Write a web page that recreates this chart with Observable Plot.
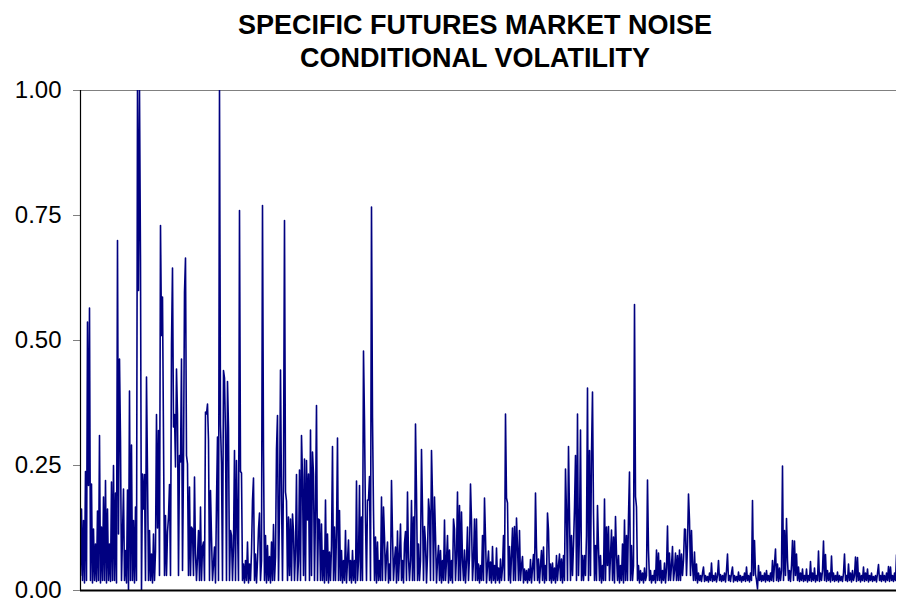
<!DOCTYPE html>
<html>
<head>
<meta charset="utf-8">
<script src="https://cdn.jsdelivr.net/npm/d3@7"></script>
<script src="https://cdn.jsdelivr.net/npm/@observablehq/plot@0.6"></script>
<style>
  html, body { margin: 0; padding: 0; background: #fff; overflow: hidden; }
  #title {
    width: 897px; height: 75px; box-sizing: border-box;
    padding-top: 9px; padding-left: 53px;
    font-family: "Liberation Sans", Arial, sans-serif;
    font-weight: bold; font-size: 27px; line-height: 33px;
    text-align: center; color: #000;
  }
</style>
</head>
<body>
<div id="title"></div>
<div id="chart"></div>
<script>
const titleLines = ["SPECIFIC FUTURES MARKET NOISE", "CONDITIONAL VOLATILITY"];
const yTicks = [0, 0.25, 0.5, 0.75, 1];

const volatility = [
  0.03, 0.163, 0.02, 0.14, 0.015, 0.238, 0.02, 0.537, 0.21, 0.565, 0.02, 0.213, 0.015, 0.123, 0.02, 0.093, 0.018, 0.159, 0.02, 0.31,
  0.015, 0.127, 0.02, 0.187, 0.02, 0.22, 0.015, 0.163, 0.02, 0.093, 0.018, 0.217, 0.02, 0.25, 0.02, 0.195, 0.015, 0.70, 0.113, 0.463,
  0.30, 0.02, 0.113, 0.203, 0.02, 0.08, 0.015, 0.201, 0.0, 0.399, 0.02, 0.291, 0.02, 0.14, 0.015, 0.167, 0.02, 1.0, 0.6, 1.0,
  0.66, 0.0, 0.233, 0.163, 0.232, 0.02, 0.427, 0.232, 0.02, 0.12, 0.02, 0.073, 0.015, 0.113, 0.02, 0.079, 0.352, 0.125, 0.32, 0.03,
  0.73, 0.51, 0.587, 0.307, 0.03, 0.15, 0.03, 0.117, 0.147, 0.212, 0.03, 0.493, 0.645, 0.327, 0.352, 0.247, 0.443, 0.352, 0.03, 0.27,
  0.257, 0.463, 0.04, 0.253, 0.597, 0.665, 0.27, 0.253, 0.03, 0.207, 0.03, 0.127, 0.123, 0.03, 0.227, 0.073, 0.02, 0.067, 0.12, 0.02,
  0.167, 0.02, 0.087, 0.097, 0.02, 0.357, 0.353, 0.373, 0.30, 0.02, 0.20, 0.107, 0.02, 0.053, 0.087, 0.015, 0.177, 0.307, 0.02, 1.0,
  0.331, 0.253, 0.02, 0.44, 0.425, 0.313, 0.02, 0.418, 0.325, 0.02, 0.12, 0.11, 0.02, 0.09, 0.28, 0.02, 0.26, 0.13, 0.02, 0.76,
  0.238, 0.235, 0.02, 0.053, 0.015, 0.06, 0.02, 0.097, 0.015, 0.053, 0.02, 0.077, 0.18, 0.225, 0.02, 0.073, 0.015, 0.06, 0.123, 0.155,
  0.02, 0.06, 0.77, 0.28, 0.02, 0.11, 0.015, 0.09, 0.02, 0.068, 0.015, 0.097, 0.02, 0.132, 0.02, 0.067, 0.283, 0.35, 0.02, 0.16,
  0.441, 0.19, 0.02, 0.232, 0.74, 0.197, 0.179, 0.02, 0.147, 0.03, 0.143, 0.02, 0.153, 0.117, 0.02, 0.08, 0.232, 0.02, 0.06, 0.241,
  0.02, 0.31, 0.227, 0.03, 0.263, 0.02, 0.26, 0.141, 0.233, 0.02, 0.321, 0.03, 0.277, 0.233, 0.02, 0.16, 0.37, 0.02, 0.143, 0.141,
  0.02, 0.133, 0.02, 0.08, 0.015, 0.181, 0.02, 0.113, 0.015, 0.077, 0.02, 0.09, 0.288, 0.02, 0.127, 0.02, 0.117, 0.305, 0.02, 0.16,
  0.02, 0.08, 0.015, 0.06, 0.02, 0.12, 0.015, 0.06, 0.101, 0.02, 0.06, 0.015, 0.08, 0.02, 0.06, 0.015, 0.219, 0.02, 0.06, 0.21,
  0.02, 0.147, 0.02, 0.479, 0.339, 0.14, 0.02, 0.181, 0.181, 0.228, 0.02, 0.767, 0.345, 0.159, 0.02, 0.107, 0.015, 0.097, 0.02, 0.06,
  0.02, 0.187, 0.02, 0.167, 0.107, 0.02, 0.07, 0.097, 0.015, 0.053, 0.02, 0.22, 0.113, 0.02, 0.06, 0.087, 0.015, 0.119, 0.02, 0.07,
  0.133, 0.02, 0.06, 0.015, 0.095, 0.118, 0.02, 0.197, 0.065, 0.02, 0.06, 0.18, 0.02, 0.147, 0.02, 0.333, 0.195, 0.02, 0.093, 0.02,
  0.06, 0.282, 0.163, 0.02, 0.128, 0.097, 0.015, 0.07, 0.183, 0.157, 0.02, 0.28, 0.188, 0.02, 0.187, 0.11, 0.015, 0.06, 0.09, 0.02,
  0.08, 0.015, 0.06, 0.02, 0.141, 0.02, 0.06, 0.11, 0.015, 0.081, 0.02, 0.06, 0.015, 0.143, 0.123, 0.02, 0.07, 0.197, 0.02, 0.17,
  0.02, 0.157, 0.06, 0.02, 0.081, 0.015, 0.06, 0.127, 0.02, 0.07, 0.213, 0.14, 0.02, 0.06, 0.143, 0.02, 0.143, 0.02, 0.053, 0.015,
  0.05, 0.02, 0.11, 0.02, 0.185, 0.107, 0.015, 0.05, 0.079, 0.02, 0.057, 0.015, 0.088, 0.02, 0.05, 0.015, 0.085, 0.02, 0.045, 0.015,
  0.063, 0.02, 0.045, 0.11, 0.02, 0.353, 0.185, 0.175, 0.02, 0.088, 0.015, 0.07, 0.125, 0.02, 0.128, 0.02, 0.145, 0.087, 0.02, 0.12,
  0.02, 0.05, 0.068, 0.015, 0.043, 0.02, 0.04, 0.015, 0.043, 0.02, 0.062, 0.015, 0.045, 0.072, 0.02, 0.195, 0.085, 0.02, 0.063, 0.015,
  0.05, 0.08, 0.02, 0.087, 0.015, 0.05, 0.02, 0.155, 0.12, 0.02, 0.053, 0.015, 0.055, 0.02, 0.045, 0.015, 0.07, 0.02, 0.05, 0.073,
  0.02, 0.063, 0.015, 0.07, 0.02, 0.243, 0.155, 0.02, 0.288, 0.15, 0.02, 0.11, 0.03, 0.09, 0.165, 0.27, 0.02, 0.353, 0.03, 0.12,
  0.321, 0.02, 0.07, 0.02, 0.07, 0.03, 0.11, 0.405, 0.02, 0.28, 0.03, 0.275, 0.397, 0.155, 0.02, 0.09, 0.02, 0.17, 0.087, 0.02,
  0.07, 0.015, 0.05, 0.02, 0.183, 0.02, 0.127, 0.05, 0.128, 0.02, 0.07, 0.121, 0.02, 0.107, 0.015, 0.148, 0.073, 0.02, 0.07, 0.015,
  0.05, 0.02, 0.093, 0.015, 0.141, 0.02, 0.11, 0.02, 0.147, 0.237, 0.02, 0.09, 0.02, 0.05, 0.572, 0.188, 0.167, 0.02, 0.05, 0.015,
  0.04, 0.02, 0.035, 0.015, 0.045, 0.02, 0.03, 0.221, 0.08, 0.02, 0.04, 0.015, 0.03, 0.02, 0.04, 0.015, 0.081, 0.02, 0.075, 0.02,
  0.06, 0.015, 0.04, 0.02, 0.055, 0.015, 0.045, 0.129, 0.02, 0.075, 0.02, 0.05, 0.088, 0.02, 0.04, 0.075, 0.02, 0.07, 0.02, 0.081,
  0.02, 0.073, 0.03, 0.06, 0.123, 0.122, 0.03, 0.09, 0.193, 0.14, 0.03, 0.12, 0.05, 0.02, 0.077, 0.02, 0.053, 0.015, 0.035, 0.02,
  0.03, 0.018, 0.035, 0.047, 0.018, 0.03, 0.02, 0.028, 0.017, 0.035, 0.02, 0.055, 0.018, 0.03, 0.02, 0.035, 0.017, 0.03, 0.06, 0.02,
  0.032, 0.018, 0.03, 0.02, 0.035, 0.017, 0.04, 0.073, 0.02, 0.03, 0.018, 0.035, 0.047, 0.017, 0.03, 0.02, 0.028, 0.018, 0.037, 0.02,
  0.03, 0.017, 0.028, 0.02, 0.035, 0.018, 0.047, 0.02, 0.03, 0.017, 0.035, 0.02, 0.18, 0.03, 0.1, 0.033, 0.02, 0.003, 0.05, 0.02,
  0.037, 0.018, 0.03, 0.02, 0.035, 0.017, 0.04, 0.02, 0.03, 0.018, 0.035, 0.02, 0.06, 0.018, 0.053, 0.083, 0.02, 0.053, 0.018, 0.045,
  0.02, 0.04, 0.249, 0.02, 0.12, 0.03, 0.144, 0.06, 0.02, 0.04, 0.018, 0.05, 0.1, 0.02, 0.099, 0.03, 0.073, 0.02, 0.047, 0.018,
  0.035, 0.02, 0.043, 0.018, 0.03, 0.02, 0.043, 0.017, 0.03, 0.02, 0.058, 0.018, 0.035, 0.02, 0.045, 0.017, 0.03, 0.02, 0.079, 0.018,
  0.035, 0.02, 0.04, 0.099, 0.02, 0.072, 0.018, 0.04, 0.02, 0.035, 0.017, 0.069, 0.02, 0.035, 0.018, 0.03, 0.02, 0.037, 0.017, 0.03,
  0.02, 0.028, 0.018, 0.035, 0.073, 0.02, 0.03, 0.018, 0.053, 0.02, 0.035, 0.017, 0.04, 0.02, 0.03, 0.067, 0.018, 0.066, 0.02, 0.035,
  0.017, 0.03, 0.02, 0.047, 0.018, 0.035, 0.02, 0.043, 0.017, 0.03, 0.02, 0.035, 0.018, 0.028, 0.02, 0.03, 0.017, 0.035, 0.052, 0.02,
  0.03, 0.018, 0.037, 0.02, 0.03, 0.017, 0.035, 0.02, 0.048, 0.018, 0.047, 0.02, 0.03, 0.018, 0.035, 0.02, 0.071
];

document.getElementById("title").innerHTML = titleLines.join("<br>");

const font = "'Liberation Sans', Arial, sans-serif";

const chart = Plot.plot({
  width: 897,
  height: 531,
  marginLeft: 80,
  marginRight: 1,
  marginTop: 15,
  marginBottom: 16,
  style: { fontFamily: font, fontSize: "24px", background: "#fff", color: "#000" },
  x: { domain: [0, volatility.length - 1], axis: null },
  y: { domain: [0, 1] },
  marks: [
    Plot.ruleY([1], { stroke: "#808080", strokeWidth: 1 }),
    Plot.axisY({
      ticks: yTicks,
      tickFormat: d3.format(".2f"),
      tickSize: 7,
      tickPadding: 12,
      fontSize: 24,
      stroke: "#808080",
      fill: "#000"
    }),
    Plot.lineY(volatility, { stroke: "#000080", strokeWidth: 1.6, clip: true }),
    Plot.ruleX([0], { stroke: "#000", strokeWidth: 1.2 }),
    Plot.ruleY([0], { stroke: "#000", strokeWidth: 2 })
  ]
});
document.getElementById("chart").appendChild(chart);
</script>
</body>
</html>
